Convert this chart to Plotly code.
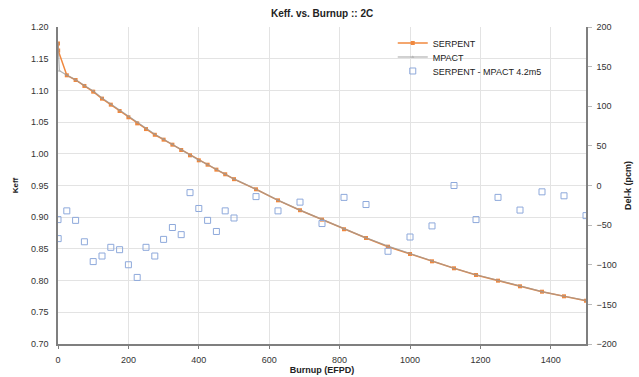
import plotly.graph_objects as go

# Burnup steps (EFPD)
burnup = [0, 0.5, 25, 50, 75, 100, 125, 150, 175, 200, 225, 250, 275, 300, 325,
          350, 375, 400, 425, 450, 475, 500, 562.5, 625, 687.5, 750, 812.5, 875,
          937.5, 1000, 1062.5, 1125, 1187.5, 1250, 1312.5, 1375, 1437.5, 1500]

# SERPENT k-eff
keff_serpent = [1.1740, 1.1630, 1.1238, 1.1164, 1.1070, 1.0980, 1.0870, 1.0775,
                1.0675, 1.0576, 1.0480, 1.0390, 1.0300, 1.0223, 1.0144, 1.0060,
                0.9976, 0.9897, 0.9828, 0.9750, 0.9677, 0.9600, 0.9440, 0.9266,
                0.9110, 0.8962, 0.8810, 0.8672, 0.8535, 0.8420, 0.8304, 0.8194,
                0.8088, 0.7999, 0.7910, 0.7825, 0.7752, 0.7683]

# MPACT burnup steps and k-eff
burnup_mpact = [0, 0.5, 4, 25, 50, 75, 100, 125, 150, 175, 200, 225, 250, 275, 300,
                325, 350, 375, 400, 425, 450, 475, 500, 562.5, 625, 687.5, 750,
                812.5, 875, 937.5, 1000, 1062.5, 1125, 1187.5, 1250, 1312.5, 1375,
                1437.5, 1500]
keff_mpact = [1.1744, 1.1637, 1.1310, 1.1241, 1.1168, 1.1077, 1.0990, 1.0879,
              1.0783, 1.0683, 1.0586, 1.0492, 1.0398, 1.0309, 1.0230, 1.0149,
              1.0066, 0.9977, 0.9900, 0.9832, 0.9756, 0.9680, 0.9604, 0.9441,
              0.9269, 0.9112, 0.8967, 0.8811, 0.8674, 0.8543, 0.8427, 0.8309,
              0.8194, 0.8092, 0.8001, 0.7913, 0.7826, 0.7753, 0.7687]

# SERPENT - MPACT difference (pcm)
delta_pcm = [-43, -67, -32, -44, -71, -96, -89, -78, -81, -100, -116, -78, -89,
             -68, -53, -62, -9, -29, -44, -58, -32, -41, -14, -32, -21, -48,
             -15, -24, -83, -65, -51, 0, -43, -15, -31, -8, -13, -38]

FONT = "Liberation Sans, Arial, sans-serif"
ORANGE = "#F0883E"
GRAY = "#9A9A9A"
BLUE = "#8EA9DB"
GRID = "#E3E3E3"
AXIS = "#7F7F7F"

fig = go.Figure()

fig.add_trace(go.Scatter(
    x=burnup, y=keff_serpent, name="SERPENT", mode="lines+markers",
    line=dict(color=ORANGE, width=1.5),
    marker=dict(symbol="square", size=4, color=ORANGE),
    legend="legend",
))
fig.add_trace(go.Scatter(
    x=burnup_mpact, y=keff_mpact, name="MPACT", mode="lines+markers",
    line=dict(color=GRAY, width=1.2),
    marker=dict(symbol="triangle-up", size=3, color=GRAY),
    opacity=0.75,
    legend="legend2",
))
fig.add_trace(go.Scatter(
    x=burnup, y=delta_pcm, name="SERPENT - MPACT 4.2m5", mode="markers",
    yaxis="y2",
    marker=dict(symbol="square-open", size=6, color=BLUE, line=dict(width=1)),
    legend="legend3",
))

# one legend box per entry keeps the rows tightly spaced
legend_style = dict(x=0.634, xanchor="left", yanchor="middle",
                    bgcolor="rgba(0,0,0,0)", font=dict(size=9, color="#222222"),
                    itemwidth=30)

fig.update_layout(
    width=639, height=377,
    margin=dict(l=58, r=53, t=27, b=33, autoexpand=False),
    paper_bgcolor="white", plot_bgcolor="white",
    font=dict(family=FONT, size=9, color="#333333"),
    title=dict(text="<b>Keff. vs. Burnup :: 2C</b>", x=0.504, xanchor="center",
               y=0.965, yanchor="middle", font=dict(size=10, color="#222222")),
    xaxis=dict(
        range=[0, 1500], dtick=200, showgrid=True, gridcolor=GRID, gridwidth=1,
        showline=True, linecolor=AXIS, linewidth=1.5, zeroline=False,
        ticks="outside", ticklen=3, tickcolor=AXIS, ticklabelstandoff=3,
        automargin=False,
        title=dict(text="<b>Burnup (EFPD)</b>", standoff=3,
                   font=dict(size=9, color="#222222")),
    ),
    yaxis=dict(
        range=[0.7, 1.2], dtick=0.05, tickformat=".2f", showgrid=True,
        gridcolor=GRID, gridwidth=1, showline=True, linecolor=AXIS, linewidth=1.5,
        zeroline=False, ticks="", ticklabelstandoff=6, automargin=False,
        title=dict(text="<b>Keff</b>", standoff=11,
                   font=dict(size=8, color="#222222")),
    ),
    yaxis2=dict(
        range=[-200, 200], dtick=50, overlaying="y", side="right",
        showgrid=False, showline=True, linecolor=AXIS, linewidth=1.5,
        zeroline=False, ticks="outside", ticklen=4, tickcolor="#BBBBBB",
        ticklabelstandoff=3, automargin=False,
        title=dict(text="<b>Del-k (pcm)</b>", standoff=9,
                   font=dict(size=9, color="#222222")),
    ),
    legend=dict(y=0.9495, **legend_style),
    legend2=dict(y=0.9054, **legend_style),
    legend3=dict(y=0.8612, **legend_style),
    showlegend=True,
)

fig.write_html("out.html")
